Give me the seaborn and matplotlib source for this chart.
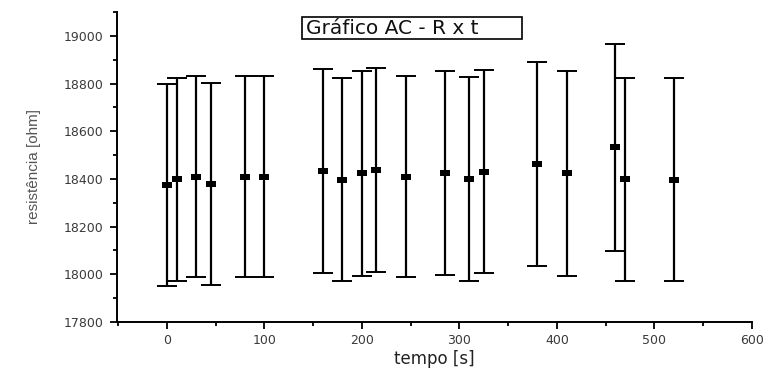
import matplotlib
matplotlib.use("Agg")
import matplotlib.pyplot as plt
import seaborn as sns
import pandas as pd
from matplotlib.ticker import MultipleLocator
from matplotlib.patches import Rectangle

# data
tempo = [0, 10, 30, 45, 80, 100, 160, 180, 200, 215, 245, 285, 310, 325, 380, 410, 460, 470, 520]
resistencia = [18374, 18399, 18410, 18380, 18410, 18410, 18434, 18396, 18424, 18438,
               18410, 18424, 18400, 18431, 18463, 18424, 18532, 18399, 18396]
erro = [423, 426, 423, 424, 423, 423, 427, 426, 430, 427,
        423, 427, 426, 427, 427, 430, 434, 426, 426]
x_ticks = [0, 100, 200, 300, 400, 500, 600]
y_ticks = [17800, 18000, 18200, 18400, 18600, 18800, 19000]

df = pd.DataFrame({"tempo": tempo, "R": resistencia, "err": erro})

sns.set_style("ticks")
plt.rcParams["font.family"] = ["DejaVu Sans"]

W, H = 769, 371
fig = plt.figure(figsize=(7.69, 3.71), dpi=100)
ax = fig.add_axes([117/W, 1 - 322/H, (752 - 117)/W, (322 - 12)/H])

ax.errorbar(df["tempo"], df["R"], yerr=df["err"], fmt="none", ecolor="black",
            elinewidth=1.6, capsize=7.5, capthick=1.4, zorder=2)
rect = [(-1.5, -1), (1.5, -1), (1.5, 1), (-1.5, 1), (-1.5, -1)]
sns.scatterplot(data=df, x="tempo", y="R", marker=rect, s=55, color="black",
                edgecolor="black", linewidth=0, ax=ax, zorder=3, legend=False)

ax.set_xlim(-51, 600)
ax.set_ylim(17800, 19100)
ax.set_xticks(x_ticks)
ax.set_yticks(y_ticks)
ax.xaxis.set_minor_locator(MultipleLocator(50))
ax.yaxis.set_minor_locator(MultipleLocator(100))
ax.tick_params(axis="both", which="major", direction="out", length=5, width=1.3,
               labelsize=9, labelcolor="#3a3a3a", color="black")
ax.tick_params(axis="both", which="minor", direction="out", length=3, width=1.3, color="black")
ax.tick_params(axis="x", pad=4)
ax.tick_params(axis="y", pad=5)

for side in ["top", "right"]:
    ax.spines[side].set_visible(False)
for side in ["left", "bottom"]:
    ax.spines[side].set_linewidth(1.4)
    ax.spines[side].set_color("black")

ax.set_xlabel("tempo [s]", fontsize=12, color="#222222", labelpad=2)
ax.set_ylabel("resistência [ohm]", fontsize=11, color="#555555", family="Liberation Sans",
              labelpad=16)

# title box
fig.patches.append(Rectangle((302/W, 1 - 39/H), (522 - 302)/W, (39 - 17)/H,
                             transform=fig.transFigure, facecolor="white",
                             edgecolor="black", linewidth=1.2, zorder=5))
fig.text(306/W, 1 - 28/H, "Gráfico AC - R x t", ha="left", va="center",
         fontsize=14.5, color="#111111", zorder=6)

fig.savefig("out.png", dpi=100)
